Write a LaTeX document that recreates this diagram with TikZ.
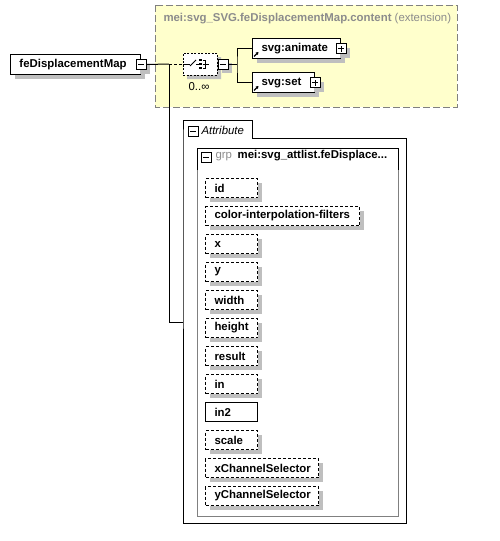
\documentclass[tikz,border=0pt]{standalone}
\usepackage{fontspec}
\setmainfont{Liberation Sans}
\usepackage{tikz}
\usetikzlibrary{
  arrows.meta,
  positioning,
  shapes.misc,
  shadows
}
\usepackage{xcolor}
\definecolor{paleYellow}{rgb}{1,1,0.8}
\definecolor{frameGrey}{rgb}{0.5,0.5,0.5}
\definecolor{shadowGrey}{rgb}{0.75,0.75,0.75}
\definecolor{titleGrey}{rgb}{0.55,0.55,0.55}
\tikzset{
  diagfont/.style={font=\fontsize{11.4}{13}\selectfont},
  shadowed/.style={
    drop shadow={shadow xshift=4pt, shadow yshift=-4pt,
      fill=shadowGrey, opacity=1}
  },
  elembox/.style={
    draw, fill=white, font=\fontsize{11.4}{13}\selectfont\bfseries,
    inner xsep=9pt, inner ysep=0pt, minimum height=20pt,
    text width=#1, align=left, anchor=north west, shadowed
  },
  attrbox/.style={
    elembox=#1, minimum height=19pt,
    dash pattern=on 3pt off 2pt
  },
  attrreq/.style={
    draw, fill=white, font=\fontsize{11.4}{13}\selectfont\bfseries,
    inner xsep=9pt, inner ysep=0pt, minimum height=19pt,
    text width=#1, align=left, anchor=north west
  },
  flatbox/.style={
    draw, fill=white, minimum size=10pt, inner sep=0pt
  },
  togglebox/.style={flatbox, shadowed},
  minussign/.style={
    path picture={
      \draw ([xshift=2pt]path picture bounding box.west)
        -- ([xshift=-2pt]path picture bounding box.east);
    }
  },
  plussign/.style={
    path picture={
      \draw ([xshift=2pt]path picture bounding box.west)
        -- ([xshift=-2pt]path picture bounding box.east);
      \draw ([yshift=2pt]path picture bounding box.south)
        -- ([yshift=-2pt]path picture bounding box.north);
    }
  },
  minusbox/.style={togglebox, minussign},
  plusbox/.style={togglebox, plussign},
  choicebox/.style={
    chamfered rectangle, chamfered rectangle xsep=6pt,
    chamfered rectangle ysep=6pt, draw, fill=white,
    dash pattern=on 2pt off 1.5pt, minimum width=34pt,
    minimum height=22pt, inner sep=0pt, shadowed
  }
}

\begin{document}
\begin{tikzpicture}[x=1pt, y=-1pt, line width=1pt, >=Stealth]
  \useasboundingbox (0,0) rectangle (499,541);

  % content model (extension)
  \draw[fill=paleYellow, draw=frameGrey, dash pattern=on 7pt off 3pt]
    (155,5) rectangle (457,107);
  \node[diagfont, anchor=west, text=titleGrey, inner sep=0pt] (title) at (163,19)
    {\textbf{mei:svg\_SVG.feDisplacementMap.content} (extension)};

  % element and its compositor
  \node[elembox=112pt] (fedm) at (10,54) {feDisplacementMap};
  \node[minusbox] (fedmtoggle) at (fedm.east) {};
  \node[choicebox] (choice) at (200,64) {};
  \node[minusbox, right=0pt of choice] (choicetoggle) {};
  \node[diagfont, inner sep=0pt] (occurs) at (199,87) {0..∞};

  % choice icon
  \begin{scope}[shift={(choice.center)}, line width=0.9pt]
    \draw (-17,0) -- (-10,0);
    \draw (-10,2) -- (-4,-4);
    \draw (-4,0) -- (-1,0);
    \foreach \dy in {-4,0,4}{
      \fill (-1,\dy-1.3) rectangle ++(2.8,2.6);
    }
    \draw (2.5,-4) -- (5.5,-4) -- (5.5,4) -- (2.5,4);
    \draw (2.5,0) -- (9,0);
  \end{scope}

  % children
  \node[elembox=70pt] (animate) at (252,38) {svg:animate};
  \node[plusbox] (animatetoggle) at (animate.east) {};
  \node[elembox=44pt] (set) at (252,72) {svg:set};
  \node[plusbox] (settoggle) at (set.east) {};
  \foreach \n in {animate, set}{
    \draw[line width=1.2pt, -{Triangle[length=2.5pt, width=3pt]}]
      ([xshift=2pt, yshift=2.5pt]\n.south west) -- ++(4.5,-4.5);
  }

  % connectors
  \coordinate (fork) at (169,64);
  \coordinate (split) at (237,64);
  \draw (fedmtoggle.east) -- (fork);
  \draw[dash pattern=on 3pt off 2pt] (fork) -- (choice.west);
  \draw (choicetoggle.east) -- (split);
  \draw (animate.west) -| (split) |- (set.west);

  % attributes
  \coordinate (attrjoin) at (183,322);
  \draw (fork) |- (attrjoin);
  \draw (183,138) -- (183,120) -- (252,120) -- (252,138) -- (406,138)
    -- (406,523) -- (183,523) -- cycle;
  \node[flatbox, minussign] (attrtoggle) at (193,131) {};
  \node[anchor=west, inner sep=0pt, font=\fontsize{11.4}{13}\selectfont\itshape]
    (attrlabel) at (201,130) {Attribute};

  \draw[frameGrey] (197,148) rectangle (398,516);
  \draw (197,170) -- (197,148) -- (398,148) -- (398,170);
  \node[flatbox, minussign] (grptoggle) at (206,157) {};
  \node[anchor=west, inner sep=0pt, font=\fontsize{11.4}{13}\selectfont] (grplabel) at (215,156)
    {\textcolor{titleGrey}{grp}\enspace\textbf{mei:svg\_attlist.feDisplace...}};

  \foreach \i/\txt/\w in {0/id/34, 1/color-interpolation-filters/136, 2/x/34,
      3/y/34, 4/width/34, 5/height/34, 6/result/34, 7/in/34}{
    \node[attrbox=\w pt] (attr\i) at (205,178+28*\i) {\txt};
  }
  \node[attrreq=34pt] (attr8) at (205,402) {in2};
  \foreach \i/\txt/\w in {9/scale/34, 10/xChannelSelector/95, 11/yChannelSelector/95}{
    \node[attrbox=\w pt] (attr\i) at (205,178+28*\i) {\txt};
  }
\end{tikzpicture}
\end{document}
